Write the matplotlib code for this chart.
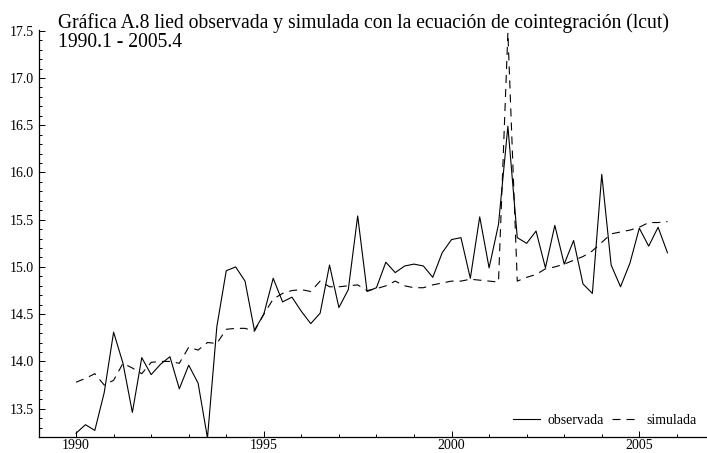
import numpy as np
import matplotlib
matplotlib.use("Agg")
import matplotlib.pyplot as plt
from matplotlib.ticker import MultipleLocator

start_year = 1990
periods = 64  # 1990.1 - 2005.4 quarterly

observada = [13.24, 13.33, 13.27, 13.67, 14.31, 13.98, 13.46, 14.04,
             13.86, 13.97, 14.05, 13.71, 13.96, 13.77, 13.19, 14.37,
             14.96, 15.00, 14.85, 14.33, 14.50, 14.88, 14.63, 14.68,
             14.53, 14.40, 14.51, 15.02, 14.57, 14.76, 15.54, 14.74,
             14.78, 15.05, 14.94, 15.01, 15.03, 15.01, 14.89, 15.15,
             15.29, 15.31, 14.88, 15.53, 14.99, 15.45, 16.49, 15.31,
             15.25, 15.38, 14.99, 15.44, 15.03, 15.28, 14.82, 14.72,
             15.98, 15.02, 14.79, 15.04, 15.41, 15.22, 15.42, 15.15]

simulada = [13.78, 13.82, 13.87, 13.75, 13.80, 13.98, 13.93, 13.87,
            13.99, 14.00, 14.00, 13.98, 14.15, 14.12, 14.20, 14.19,
            14.34, 14.35, 14.35, 14.32, 14.50, 14.66, 14.72, 14.75,
            14.76, 14.74, 14.85, 14.79, 14.79, 14.80, 14.81, 14.75,
            14.77, 14.80, 14.85, 14.80, 14.78, 14.78, 14.81, 14.83,
            14.85, 14.85, 14.87, 14.86, 14.85, 14.84, 17.48, 14.85,
            14.89, 14.92, 14.98, 15.00, 15.03, 15.07, 15.11, 15.17,
            15.26, 15.35, 15.37, 15.39, 15.42, 15.47, 15.47, 15.48]

title_line1 = "Gráfica A.8 lied observada y simulada con la ecuación de cointegración (lcut)"
title_line2 = "1990.1 - 2005.4"
legend_labels = ["observada", "simulada"]

plt.rcParams['font.family'] = ['Liberation Serif', 'DejaVu Serif']
plt.rcParams['lines.scale_dashes'] = False

t = start_year + np.arange(periods) / 4.0

W, H = 707, 453
fig = plt.figure(figsize=(W / 100, H / 100), dpi=100)
ax = fig.add_axes([38.5 / W, (H - 437) / H, 668.4 / W, 407.2 / H])

ax.plot(t, observada, color='black', lw=0.8, label=legend_labels[0])
ax.plot(t, simulada, color='black', lw=0.8, dashes=(5.8, 4.3), label=legend_labels[1])

ax.set_xlim(1989.0, 2006.8)
ax.set_ylim(13.2, 17.51)

ax.xaxis.set_major_locator(MultipleLocator(5))
ax.xaxis.set_minor_locator(MultipleLocator(1))
ax.yaxis.set_major_locator(MultipleLocator(0.5))
ax.yaxis.set_minor_locator(MultipleLocator(0.1))
ax.yaxis.set_major_formatter(matplotlib.ticker.FormatStrFormatter('%.1f'))

for s in ['top', 'right']:
    ax.spines[s].set_visible(False)
for s in ['left', 'bottom']:
    ax.spines[s].set_linewidth(0.9)

ax.tick_params(which='both', direction='in', width=0.7, labelsize=10)
ax.tick_params(which='major', length=4)
ax.tick_params(which='minor', length=2.2)
ax.tick_params(axis='y', which='major', pad=3)
ax.tick_params(axis='x', which='major', pad=1.5)

leg = ax.legend(loc='center right', bbox_to_anchor=(697 / W, 1 - 420.7 / H),
                bbox_transform=fig.transFigure, ncol=2, frameon=False,
                fontsize=10, handlelength=2.0, handletextpad=0.5,
                columnspacing=0.6, borderpad=0, borderaxespad=0)

fig.text(58 / W, 1 - 28 / H, title_line1, fontsize=14.15, va='baseline', ha='left')
fig.text(58 / W, 1 - 46.7 / H, title_line2, fontsize=14.15, va='baseline', ha='left')

fig.savefig('out.png', dpi=100)
